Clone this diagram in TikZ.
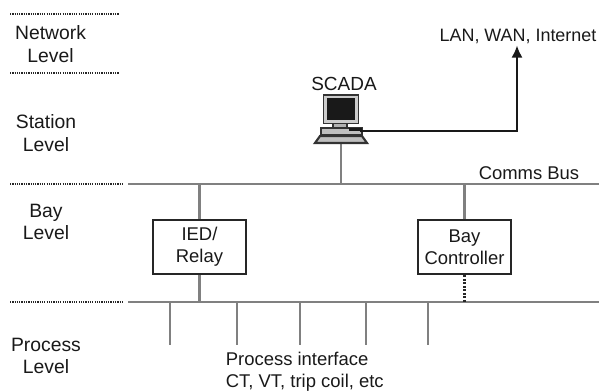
\documentclass[tikz,border=0pt]{standalone}
\usepackage{fontspec}
\setmainfont{Liberation Sans}
\usetikzlibrary{arrows.meta}
\tikzset{
    lbl/.style={align=center, inner sep=0pt, font=\fontsize{10.5}{12.6}\selectfont, text=black!90},
    levellbl/.style={lbl, font=\fontsize{11}{12.8}\selectfont},
    unitbox/.style={draw=black!85, line width=1.3pt, minimum width=53pt, minimum height=31pt, inner sep=0pt, align=center, font=\fontsize{10.5}{12.6}\selectfont, text=black!90},
    bus/.style={draw=black!50, line width=1.5pt},
    tap/.style={draw=black!50, line width=1.3pt},
    levelline/.style={draw=black!85, line width=1.2pt, dash pattern=on 0.7pt off 0.6pt},
    pc/.style={draw=black!80, line width=1pt, fill=black!25}
}
\begin{document}
\begin{tikzpicture}[x=0.02cm, y=-0.02cm]
    \useasboundingbox (0, 0) rectangle (599, 391);

    % level separators
    \draw[levelline] (10, 14) -- (119, 14);
    \draw[levelline] (10, 73) -- (119, 73);
    \draw[levelline] (10, 184) -- (122, 184);
    \draw[levelline] (10, 302) -- (122, 302);

    \node[levellbl] (network) at (50.5, 44) {Network\\Level};
    \node[levellbl] (station) at (46, 133) {Station\\Level};
    \node[levellbl] (bay) at (46, 222) {Bay\\Level};
    \node[levellbl] (process) at (46, 356) {Process\\Level};

    % the two buses
    \coordinate (commsL) at (128, 184);
    \coordinate (commsR) at (599, 184);
    \coordinate (procL) at (128, 302);
    \coordinate (procR) at (599, 302);
    \draw[bus] (commsL) -- (commsR);
    \draw[bus] (procL) -- (procR);
    \node[lbl] (commslabel) at (529, 173) {Comms Bus};

    % boxes on the bay level
    \node[unitbox] (ied) at (199.5, 247) {IED/\\Relay};
    \node[unitbox] (controller) at (464.5, 247) {Bay\\Controller};

    \coordinate (commsA) at (199.5, 184);
    \coordinate (commsB) at (464.5, 184);
    \coordinate (commsC) at (341, 184);
    \coordinate (procA) at (199.5, 302);
    \coordinate (procB) at (464.5, 302);
    \draw[tap] (commsA) -- (ied);
    \draw[tap] (ied) -- (procA);
    \draw[tap] (commsB) -- (controller);
    \draw[black!85, line width=1.2pt, dash pattern=on 1pt off 1pt] (controller) -- (procB);

    % process stubs
    \foreach \n/\px in {1/170, 2/237, 3/300, 4/366, 5/428}{
        \coordinate (top\n) at (\px, 302);
        \coordinate (end\n) at (\px, 345);
        \draw[tap] (top\n) -- (end\n);
    }
    \node[lbl, align=left, anchor=west] (iface) at (225.5, 372) {Process interface\\CT, VT, trip coil, etc};

    % scada computer
    \node[lbl, font=\fontsize{10.8}{12.6}\selectfont] (scada) at (344, 84) {SCADA};
    \coordinate (pcbase) at (341, 143);
    \draw[tap] (commsC) -- (pcbase);
    \draw[pc, fill=black!30] (333, 123) rectangle (347, 128);
    \draw[pc, fill=black!20] (323.5, 95) rectangle (358.5, 123.5);
    \fill[black!90] (327, 98) rectangle (355, 120);
    \draw[pc] (321, 128) rectangle (362, 135);
    \fill[black!90] (349, 128) rectangle (362, 131);
    \draw[pc, line width=1.2pt] (320, 136) -- (362, 136) -- (367, 143) -- (315, 143) -- cycle;

    % link to the outside
    \coordinate (pcport) at (360, 131);
    \coordinate (corner) at (517, 131);
    \node[lbl, font=\fontsize{10.2}{12.6}\selectfont] (lan) at (518, 36) {LAN, WAN, Internet};
    \draw[black!90, line width=1.4pt, -{Latex[length=7pt, width=6.5pt]}] (pcport) -- (corner) -- ([yshift=-1pt]lan.south -| corner);
\end{tikzpicture}
\end{document}
